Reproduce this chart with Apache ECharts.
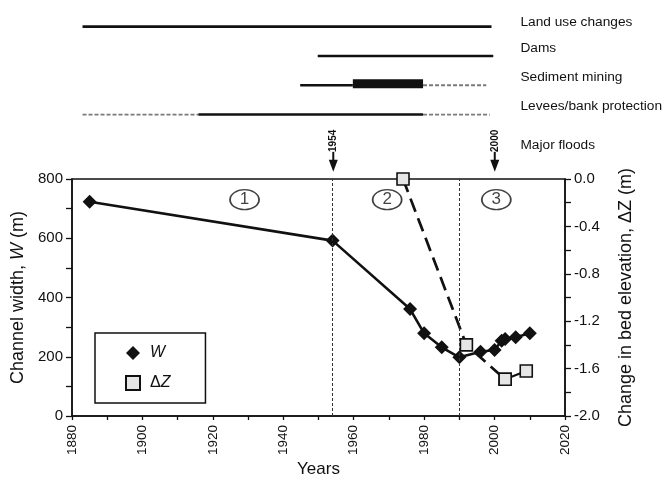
<!DOCTYPE html>
<html>
<head>
<meta charset="utf-8">
<script src="https://cdn.jsdelivr.net/npm/echarts@6/dist/echarts.min.js"></script>
<style>
  html, body { margin: 0; padding: 0; background: #fff; }
  #chart { width: 665px; height: 480px; }
</style>
</head>
<body>
<div id="chart"></div>
<script>
// Channel width W (m) by survey year
const widthYears = [1885, 1954, 1976, 1980, 1985, 1990, 1996, 2000, 2002, 2003, 2006, 2010];
const widthValues = [723, 592, 361, 279, 232, 198, 217, 223, 254, 260, 266, 279];

// Change in bed elevation dZ (m) by survey year
const bedYears = [1974, 1992, 2003, 2009];
const bedValues = [0.0, -1.40, -1.69, -1.62];

// Human pressures, one row each: [activity row, start year, end year]
const activities = ['Land use changes', 'Dams', 'Sediment mining', 'Levees/bank protection', 'Major floods'];
const activeSpans = [[0, 1883, 1999.5], [1, 1950, 2000], [2, 1945, 1960], [3, 1916, 1980]];
const intenseSpans = [[2, 1960, 1980]];
const uncertainSpans = [[2, 1980, 1998], [3, 1883, 1916], [3, 1980, 1999]];
const floodYears = [1954, 2000];

// Evolution phases, separated by the 1954 and 1990 boundaries
const phaseLabels = ['1', '2', '3'];
const phaseCentres = [1929, 1969.5, 2000.5];
const phaseLevel = 730;
const phaseBoundaries = [1954, 1990];

// Axis ticks
const yearTicks = { min: 1880, max: 2020, step: 10, labelStep: 20 };
const widthTicks = { min: 0, max: 800, step: 100, labelStep: 200 };
const bedTicks = { min: -2, max: 0, step: 0.2, labelStep: 0.4 };

const FONT = '"Liberation Sans", Arial, Helvetica, sans-serif';
const INK = '#111';

const chart = echarts.init(document.getElementById('chart'), null, { renderer: 'canvas' });

function spanRenderer(kind) {
  return function (params, api) {
    const a = api.coord([api.value(0), api.value(1)]);
    const b = api.coord([api.value(2), api.value(1)]);
    if (kind === 'intense') {
      return {
        type: 'rect',
        shape: { x: a[0], y: a[1] - 6, width: b[0] - a[0], height: 9 },
        style: { fill: INK }
      };
    }
    if (kind === 'uncertain') {
      return {
        type: 'line',
        shape: { x1: a[0], y1: a[1], x2: b[0], y2: b[1] },
        style: { stroke: '#7a7a7a', lineWidth: 1.8, lineDash: [4, 2] }
      };
    }
    return {
      type: 'line',
      shape: { x1: a[0], y1: a[1], x2: b[0], y2: b[1] },
      style: { stroke: INK, lineWidth: 2.6 }
    };
  };
}

function spanData(spans) {
  return spans.map(s => [s[1], s[0], s[2]]);
}

function floodRenderer(params, api) {
  const p = api.coord([api.value(0), api.value(1)]);
  const x = p[0] + 1.5;
  const y = p[1];
  return {
    type: 'group',
    children: [
      {
        type: 'text', x: x, y: y - 3, rotation: Math.PI / 2,
        style: {
          text: String(api.value(0)), fontSize: 10, fontWeight: 'bold',
          fontFamily: FONT, fill: INK, align: 'center', verticalAlign: 'middle'
        }
      },
      { type: 'line', shape: { x1: x, y1: y + 8, x2: x, y2: y + 17 }, style: { stroke: INK, lineWidth: 2 } },
      { type: 'polygon', shape: { points: [[x - 4.5, y + 16], [x + 4.5, y + 16], [x, y + 28]] }, style: { fill: INK } }
    ]
  };
}

const dashedPart = bedYears.slice(0, 3).map((y, i) => [y, bedValues[i]]);
const solidPart = bedYears.slice(2).map((y, i) => [y, bedValues[i + 2]]);
const bedItemStyle = { color: '#e6e6e6', borderColor: INK, borderWidth: 1.6 };

const option = {
  backgroundColor: '#fff',
  animation: false,
  textStyle: { fontFamily: FONT, color: INK },
  grid: [
    { left: 72, right: 100, top: 179, bottom: 64, show: true, borderColor: INK, borderWidth: 1.5, backgroundColor: 'transparent' },
    { left: 72, right: 100, top: 12, height: 146.5, show: false }
  ],
  xAxis: [
    {
      gridIndex: 0, type: 'value',
      min: yearTicks.min, max: yearTicks.max, interval: yearTicks.step,
      splitLine: { show: false },
      axisLine: { lineStyle: { color: INK, width: 1.5 } },
      axisTick: { length: 4, lineStyle: { color: INK, width: 1.3 } },
      axisLabel: {
        rotate: 90, fontSize: 13.5, margin: 9, color: INK, fontFamily: FONT,
        formatter: v => (Math.round(v) % yearTicks.labelStep === 0 ? String(v) : '')
      },
      name: 'Years', nameLocation: 'middle', nameGap: 45,
      nameTextStyle: { fontSize: 17, color: INK, fontFamily: FONT }
    },
    { gridIndex: 1, type: 'value', min: yearTicks.min, max: yearTicks.max, show: false }
  ],
  yAxis: [
    {
      gridIndex: 0, type: 'value', position: 'left',
      min: widthTicks.min, max: widthTicks.max, interval: widthTicks.step,
      splitLine: { show: false },
      axisLine: { show: true, lineStyle: { color: INK, width: 1.5 } },
      axisTick: { show: true, length: 6, lineStyle: { color: INK, width: 1.3 } },
      axisLabel: {
        fontSize: 15, margin: 9, color: INK, fontFamily: FONT,
        formatter: v => (Math.round(v) % widthTicks.labelStep === 0 ? String(v) : '')
      },
      name: '{n|Channel width, }{i|W}{n| (m)}',
      nameLocation: 'middle', nameRotate: 90, nameGap: 42,
      nameTextStyle: {
        rich: {
          n: { fontSize: 18, color: INK, fontFamily: FONT },
          i: { fontSize: 18, color: INK, fontFamily: FONT, fontStyle: 'italic' }
        }
      }
    },
    {
      gridIndex: 0, type: 'value', position: 'right',
      min: bedTicks.min, max: bedTicks.max, interval: bedTicks.step,
      splitLine: { show: false },
      axisLine: { show: true, lineStyle: { color: INK, width: 1.5 } },
      axisTick: { show: true, length: 6, lineStyle: { color: INK, width: 1.3 } },
      axisLabel: {
        fontSize: 15, margin: 9, color: INK, fontFamily: FONT,
        formatter: v => {
          const k = Math.round(v / bedTicks.step);
          if (k % Math.round(bedTicks.labelStep / bedTicks.step) !== 0) return '';
          const r = Math.round(v * 10) / 10;
          return (r === 0 ? 0 : r).toFixed(1);
        }
      },
      name: '{n|Change in bed elevation, Δ}{i|Z}{n| (m)}',
      nameLocation: 'middle', nameRotate: 90, nameGap: 52,
      nameTextStyle: {
        rich: {
          n: { fontSize: 18, color: INK, fontFamily: FONT },
          i: { fontSize: 18, color: INK, fontFamily: FONT }
        }
      }
    },
    {
      gridIndex: 1, type: 'category', data: activities, inverse: true, position: 'right',
      axisLine: { show: false }, axisTick: { show: false }, splitLine: { show: false },
      axisLabel: {
        margin: -43, align: 'left', color: INK,
        formatter: (v, i) => {
          const key = i === 0 ? 'a' : (i === activities.length - 1 ? 'f' : 's');
          return '{' + key + '|' + v + '}';
        },
        rich: {
          a: { fontSize: 13.7, fontFamily: FONT, color: INK, padding: [0, 0, 8, 0] },
          s: { fontSize: 13.7, fontFamily: FONT, color: INK, padding: [0, 0, 16, 0] },
          f: { fontSize: 13.7, fontFamily: FONT, color: INK, padding: [2, 0, 0, 0] }
        }
      }
    }
  ],
  legend: {
    left: 95, top: 333, orient: 'vertical',
    itemWidth: 14, itemHeight: 14, itemGap: 14,
    padding: [12, 35, 12, 30],
    borderColor: INK, borderWidth: 1.5, borderRadius: 0,
    data: [{ name: 'W', icon: 'diamond' }, { name: 'ΔZ', icon: 'rect' }],
    formatter: name => (name === 'W' ? '{i|W}' : '{n|Δ}{i|Z}'),
    textStyle: {
      padding: [0, 0, 0, 5],
      rich: {
        i: { fontSize: 16, fontStyle: 'italic', color: INK, fontFamily: FONT },
        n: { fontSize: 16, color: INK, fontFamily: FONT }
      }
    }
  },
  series: [
    {
      name: 'W', type: 'line', xAxisIndex: 0, yAxisIndex: 0,
      data: widthYears.map((y, i) => [y, widthValues[i]]),
      symbol: 'diamond', symbolSize: 14,
      lineStyle: { color: INK, width: 2.6 },
      itemStyle: { color: INK },
      z: 3,
      markLine: {
        silent: true, symbol: 'none', label: { show: false },
        lineStyle: { color: '#333', width: 1, type: [3, 2] },
        data: phaseBoundaries.map(x => ({ xAxis: x }))
      }
    },
    {
      name: 'ΔZ', type: 'line', xAxisIndex: 0, yAxisIndex: 1,
      data: dashedPart, clip: false,
      symbol: 'rect', symbolSize: 12,
      lineStyle: { color: INK, width: 2.7, type: [14, 7] },
      itemStyle: bedItemStyle, z: 4
    },
    {
      name: 'ΔZ', type: 'line', xAxisIndex: 0, yAxisIndex: 1,
      data: solidPart, clip: false,
      symbol: 'rect', symbolSize: 12,
      lineStyle: { color: INK, width: 2.2 },
      itemStyle: bedItemStyle, z: 4
    },
    {
      name: 'phases', type: 'scatter', xAxisIndex: 0, yAxisIndex: 0,
      data: phaseLabels.map((t, i) => ({ name: t, value: [phaseCentres[i], phaseLevel] })),
      symbol: 'circle', symbolSize: [29, 20],
      itemStyle: { color: 'rgba(255,255,255,0)', borderColor: INK, borderWidth: 1.5 },
      label: { show: true, position: 'inside', formatter: p => p.name, fontSize: 17, color: INK, fontFamily: FONT },
      silent: true, z: 2
    },
    {
      type: 'custom', xAxisIndex: 1, yAxisIndex: 2,
      renderItem: spanRenderer('uncertain'), data: spanData(uncertainSpans),
      encode: { x: [0, 2], y: 1 }, silent: true
    },
    {
      type: 'custom', xAxisIndex: 1, yAxisIndex: 2,
      renderItem: spanRenderer('active'), data: spanData(activeSpans),
      encode: { x: [0, 2], y: 1 }, silent: true
    },
    {
      type: 'custom', xAxisIndex: 1, yAxisIndex: 2,
      renderItem: spanRenderer('intense'), data: spanData(intenseSpans),
      encode: { x: [0, 2], y: 1 }, silent: true
    },
    {
      type: 'custom', xAxisIndex: 1, yAxisIndex: 2,
      renderItem: floodRenderer, data: floodYears.map(y => [y, activities.length - 1]),
      encode: { x: 0, y: 1 }, silent: true
    }
  ]
};

chart.setOption(option);
</script>
</body>
</html>
